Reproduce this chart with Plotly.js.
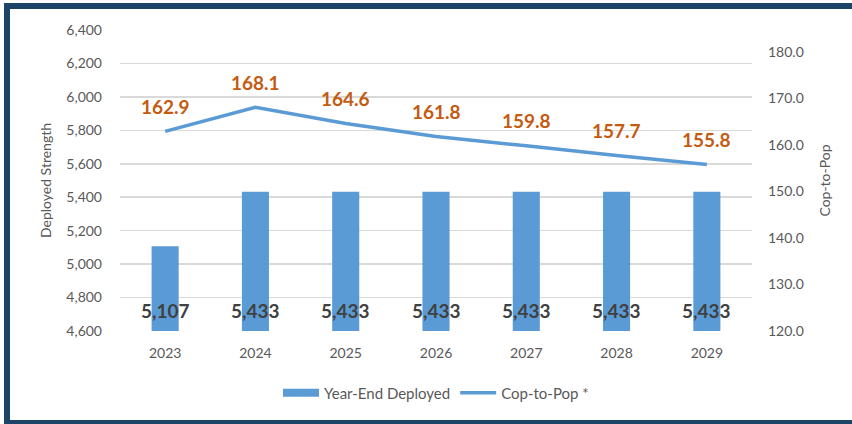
<!DOCTYPE html>
<html>
<head>
<meta charset="utf-8">
<script src="https://cdn.plot.ly/plotly-3.0.1.min.js"></script>
<style>
  html, body { margin: 0; padding: 0; background: #ffffff; }
  #wrap { position: relative; width: 852px; height: 424px; overflow: hidden; }
  #chart { position: absolute; left: 0; top: 0; width: 852px; height: 424px; }
  .bd { position: absolute; background: #1c4466; z-index: 5; }
</style>
</head>
<body>
<div id="wrap">
  <div id="chart"></div>
  <div class="bd" style="left:4px; top:3px; width:848px; height:6px;"></div>
  <div class="bd" style="left:4px; top:3px; width:6px; height:421px;"></div>
  <div class="bd" style="left:4px; top:420px; width:848px; height:4px;"></div>
</div>
<script>
const years = ['2023', '2024', '2025', '2026', '2027', '2028', '2029'];
const deployed = [5107, 5433, 5433, 5433, 5433, 5433, 5433];
const copToPop = [162.9, 168.1, 164.6, 161.8, 159.8, 157.7, 155.8];
const leftTicks = [4600, 4800, 5000, 5200, 5400, 5600, 5800, 6000, 6200, 6400];
const rightTicks = [120, 130, 140, 150, 160, 170, 180];
const seriesNames = ['Year-End Deployed', 'Cop-to-Pop *'];
const axisTitles = ['Deployed Strength', 'Cop-to-Pop'];

const FONT = 'Lato, "Noto Sans", sans-serif';
const GRAY = '#595959';
const BLUE = '#5b9bd5';
const ORANGE = '#c55a11';
const leftMin = leftTicks[0], leftMax = leftTicks[leftTicks.length - 1];

const traces = [
  {
    type: 'bar', x: years, y: deployed, name: seriesNames[0],
    marker: { color: BLUE }, yaxis: 'y', showlegend: false
  },
  {
    // legend entry for the bars, drawn as a wide swatch like the original
    type: 'scatter', mode: 'lines', x: [null], y: [null], name: seriesNames[0],
    line: { color: BLUE, width: 8 }, yaxis: 'y', showlegend: true
  },
  {
    type: 'scatter', mode: 'lines', x: years, y: copToPop, name: seriesNames[1],
    line: { color: BLUE, width: 3.5 }, yaxis: 'y2'
  }
];

const annotations = [];
years.forEach((yr, i) => {
  annotations.push({
    x: i, y: leftMin, xref: 'x', yref: 'y', yanchor: 'middle', yshift: 21,
    text: deployed[i].toLocaleString('en-US'), showarrow: false,
    font: { family: FONT, size: 19, color: '#404040', weight: 'bold' }
  });
  annotations.push({
    x: i, y: copToPop[i], xref: 'x', yref: 'y2', yanchor: 'middle', yshift: 25,
    text: copToPop[i].toFixed(1), showarrow: false,
    font: { family: FONT, size: 19, color: ORANGE, weight: 'bold' }
  });
});

const layout = {
  width: 852, height: 424,
  margin: { l: 120, r: 100, t: 30, b: 93 },
  paper_bgcolor: '#ffffff', plot_bgcolor: '#ffffff',
  font: { family: FONT, color: GRAY, size: 13 },
  bargap: 0.7,
  showlegend: true,
  legend: {
    orientation: 'h', x: 0.5, xanchor: 'center', y: -0.206, yanchor: 'middle',
    font: { family: FONT, size: 15, color: GRAY }, traceorder: 'normal',
    itemwidth: 36, tracegroupgap: 0
  },
  xaxis: {
    type: 'category', categoryorder: 'array', categoryarray: years,
    range: [-0.5, years.length - 0.5], autorange: false,
    showgrid: false, zeroline: false, showline: false,
    tickfont: { family: FONT, size: 14, color: GRAY }, ticks: '', ticklabelstandoff: 12
  },
  yaxis: {
    range: [leftMin, leftMax], autorange: false, tickvals: leftTicks,
    ticktext: leftTicks.map(v => v.toLocaleString('en-US')),
    showgrid: true, gridcolor: '#d9d9d9', gridwidth: 1.5, zeroline: false, showline: false,
    tickfont: { family: FONT, size: 14, color: GRAY }, ticks: '', ticklabelstandoff: 17,
    title: { text: axisTitles[0], font: { family: FONT, size: 14, color: GRAY }, standoff: 11 }
  },
  yaxis2: {
    overlaying: 'y', side: 'right', range: [120, 184.7], autorange: false, tickvals: rightTicks,
    tickformat: '.1f', showgrid: false, zeroline: false, showline: false,
    tickfont: { family: FONT, size: 14, color: GRAY }, ticks: '', ticklabelstandoff: 15,
    title: { text: axisTitles[1], font: { family: FONT, size: 14, color: GRAY }, standoff: 17 }
  },
  annotations: annotations
};

Plotly.newPlot('chart', traces, layout, { displayModeBar: false, staticPlot: true });
</script>
</body>
</html>
